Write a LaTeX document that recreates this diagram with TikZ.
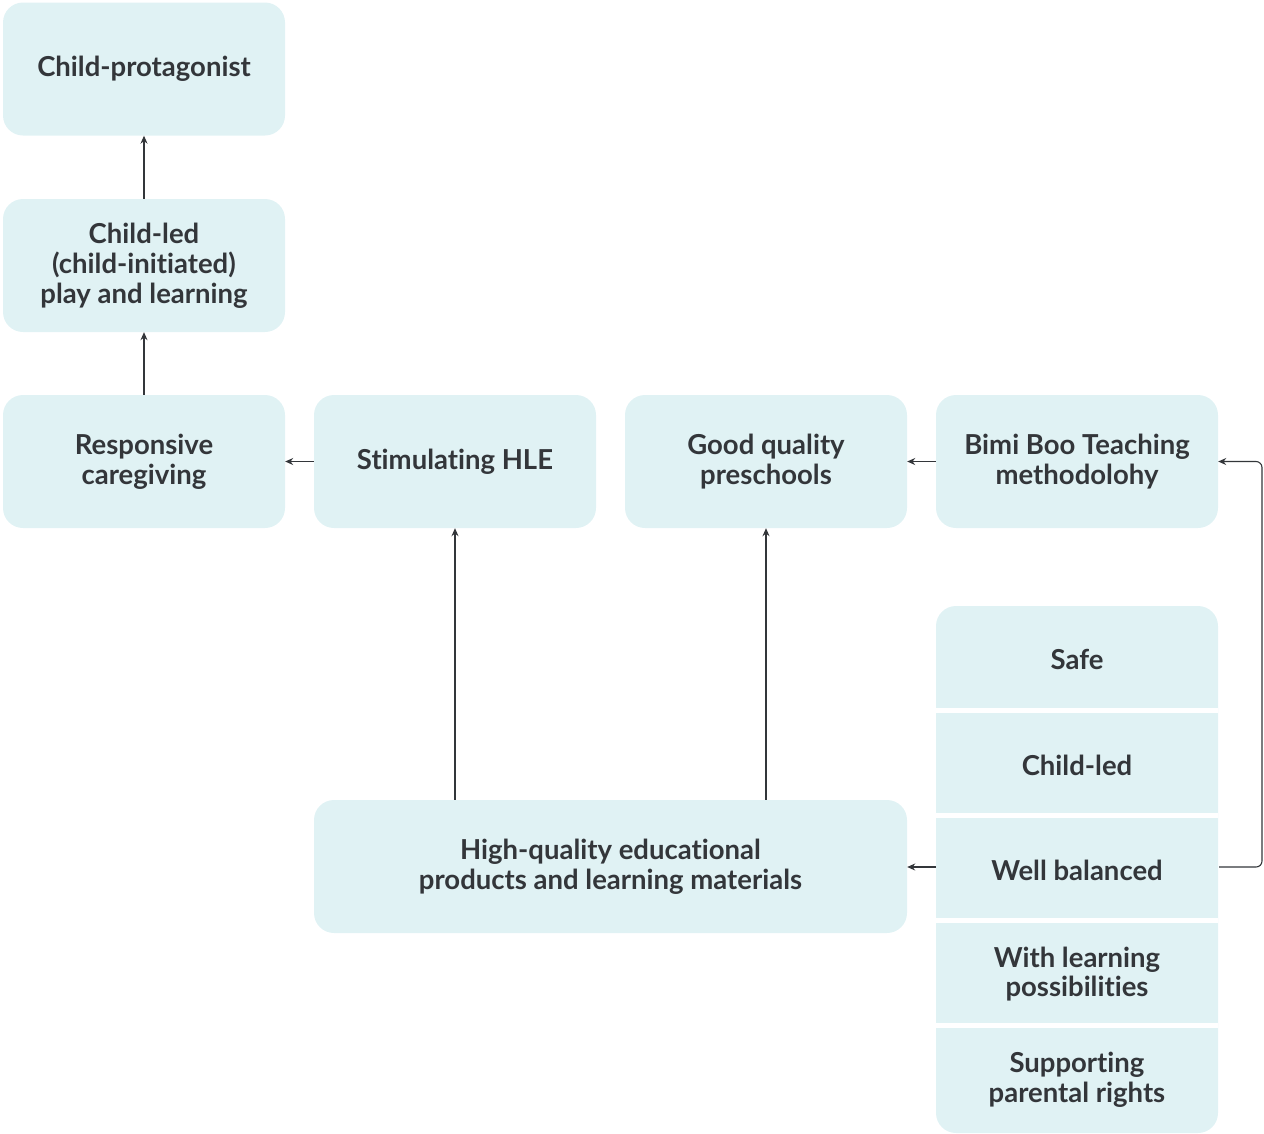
\documentclass[tikz,border=0pt]{standalone}
\usepackage{fontspec}
\setmainfont{Lato}[Ligatures={NoCommon,NoRare}]
\usetikzlibrary{arrows.meta}
\definecolor{boxfill}{HTML}{E0F2F4}
\definecolor{ink}{HTML}{33363A}
\begin{document}
\begin{tikzpicture}[x=1pt,y=-1pt,
  txt/.style={align=center,text=ink,font=\fontsize{27.5}{29.8}\selectfont\bfseries,inner sep=0pt},
  box/.style={txt,fill=boxfill,rounded corners=20pt,minimum width=282pt,minimum height=133pt},
  cell/.style={txt,minimum width=282pt},
  conn/.style={draw=ink,line width=1.1pt,-{Stealth[length=8pt,width=7pt]}}]
\useasboundingbox (0,0) rectangle (1264,1133);
\node[box] (cp) at (144,69) {Child-protagonist};
\node[box] (cl) at (144,265.5) {Child-led\\(child-initiated)\\play and learning};
\node[box] (rc) at (144,461.5) {Responsive\\caregiving};
\node[box] (hle) at (455,461.5) {Stimulating HLE};
\node[box] (gq) at (766,461.5) {Good quality\\preschools};
\node[box] (bb) at (1077,461.5) {Bimi Boo Teaching\\methodolohy};
\node[box,minimum width=593pt] (hq) at (610.5,866.5) {High-quality educational\\products and learning materials};
% stack
\fill[boxfill,rounded corners=20pt] (936,606) rectangle (1218,1133);
\fill[white] (936,708) rectangle (1218,713);
\fill[white] (936,813) rectangle (1218,818);
\fill[white] (936,918) rectangle (1218,923);
\fill[white] (936,1023) rectangle (1218,1028);
\node[cell,minimum height=102pt] (safe) at (1077,659) {Safe};
\node[cell,minimum height=100pt] (led) at (1077,765) {Child-led};
\node[cell,minimum height=100pt] (wb) at (1077,870) {Well balanced};
\node[cell,minimum height=100pt] (wl) at (1077,974) {With learning\\possibilities};
\node[cell,minimum height=105pt] (sp) at (1077,1079.5) {Supporting\\parental rights};
% connectors
\draw[conn] (cl.north) -- (cp.south);
\draw[conn] (rc.north) -- (cl.south);
\draw[conn] (hle.west) -- (rc.east);
\draw[conn] (bb.west) -- (gq.east);
\draw[conn] (hq.north -| hle.south) -- (hle.south);
\draw[conn] (hq.north -| gq.south) -- (gq.south);
\coordinate (wbl) at (936,867);
\coordinate (wbr) at (1219,867);
\draw[conn] (wbl) -- (hq.east |- wbl);
\coordinate (rt) at (1262,461.5);
\draw[conn,rounded corners=6pt] (wbr) -- (rt |- wbr) -- (rt) -- (bb.east);
\end{tikzpicture}
\end{document}
